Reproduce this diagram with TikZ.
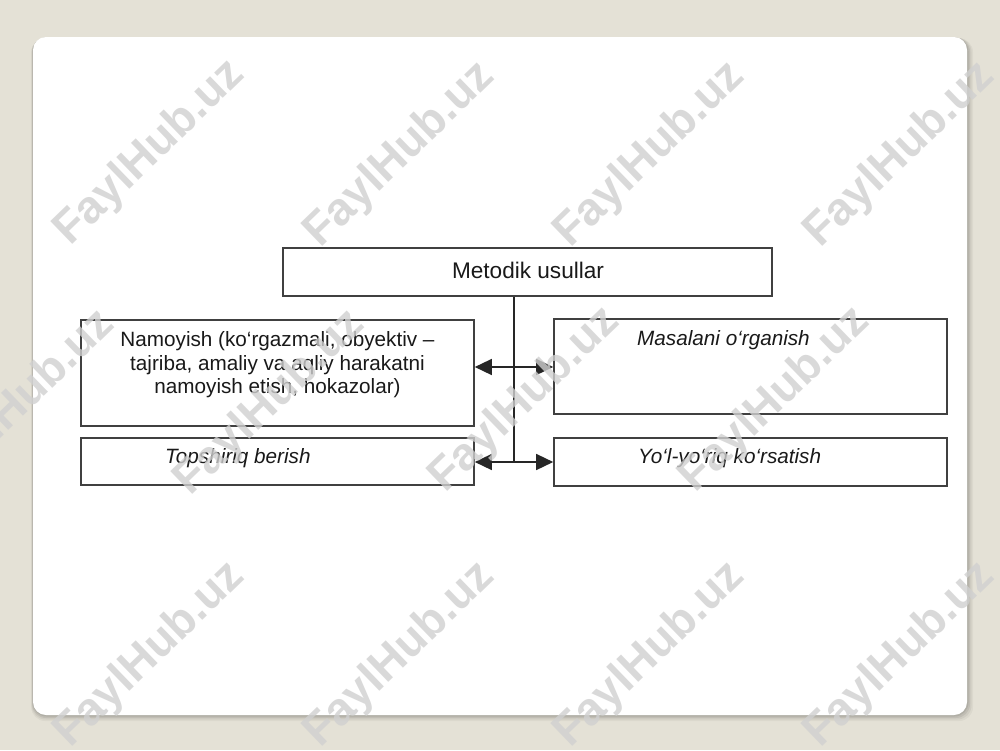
\documentclass[tikz,border=0pt]{standalone}
\usepackage{fontspec}
\setmainfont{Liberation Sans}
\usetikzlibrary{arrows.meta}
\definecolor{bgbeige}{HTML}{E4E1D6}
\definecolor{boxline}{HTML}{404040}
\definecolor{wmark}{HTML}{D0D0D0}
\tikzset{
  boxnode/.style={draw=boxline, line width=1.6pt, fill=white, rectangle, inner sep=0pt},
  lbl/.style={inner sep=0pt, font=\fontsize{20.7}{23.5}\selectfont, text=black!90},
  ilbl/.style={lbl, font=\fontsize{20.7}{23.5}\selectfont\itshape},
  conn/.style={draw=black!85, line width=1.4pt},
  dblarrow/.style={conn, {Triangle[length=17pt,width=16pt]}-{Triangle[length=17pt,width=16pt]}},
  wm/.style={font=\fontsize{46}{46}\selectfont\bfseries, text=wmark, rotate=44, opacity=0.8, inner sep=0pt}
}
\begin{document}
\begin{tikzpicture}[x=1pt,y=-1pt]
\useasboundingbox (0,0) rectangle (1000,750);
\fill[bgbeige] (0,0) rectangle (1000,750);
% card shadow
\foreach \o/\a in {6/0.04,4.5/0.05,3/0.07,1.5/0.08}{
  \fill[black, opacity=\a, rounded corners=14pt] (33-\o*0.3,37+\o*0.2) rectangle (967+\o,715+\o);
}
\fill[white, rounded corners=13pt] (33,37) rectangle (967,715);

% boxes
\node[boxnode, minimum width=489pt, minimum height=48pt] (top) at (527.5,272) {};
\node[boxnode, minimum width=393pt, minimum height=106pt] (nam) at (277.5,373) {};
\node[boxnode, minimum width=393pt, minimum height=47pt] (tops) at (277.5,461.5) {};
\node[boxnode, minimum width=393pt, minimum height=95pt] (mas) at (750.5,366.5) {};
\node[boxnode, minimum width=393pt, minimum height=48pt] (yol) at (750.5,462) {};

% texts
\node[lbl, font=\fontsize{22.6}{26}\selectfont] (ttop) at (528,270) {Metodik usullar};
\node[lbl, align=center, anchor=north] (tnam) at (277.5,331.5) {Namoyish (ko‘rgazmali, obyektiv –\\tajriba, amaliy va aqliy harakatni\\namoyish etish, hokazolar)};
\node[ilbl, anchor=west] (ttops) at (165,458.5) {Topshiriq berish};
\node[ilbl, anchor=west] (tmas) at (637,340) {Masalani o‘rganish};
\node[ilbl, anchor=west] (tyol) at (638,458.5) {Yo‘l-yo‘riq ko‘rsatish};

% connectors
\coordinate (vb) at (514,462);
\coordinate (ha) at (514,367);
\draw[conn] (vb |- top.south) -- (vb);
\draw[dblarrow] (ha -| nam.east) -- (ha -| mas.west);
\draw[dblarrow] (vb -| tops.east) -- (vb -| yol.west);

% watermarks
\foreach \x/\y [count=\i] in {150/153,400/155,650/155,900/155,20/403,270/403,525/400,775/400,150/655,400/655,650/655,900/655}{
  \node[wm] (wm\i) at (\x,\y) {FaylHub.uz};
}
\end{tikzpicture}
\end{document}
